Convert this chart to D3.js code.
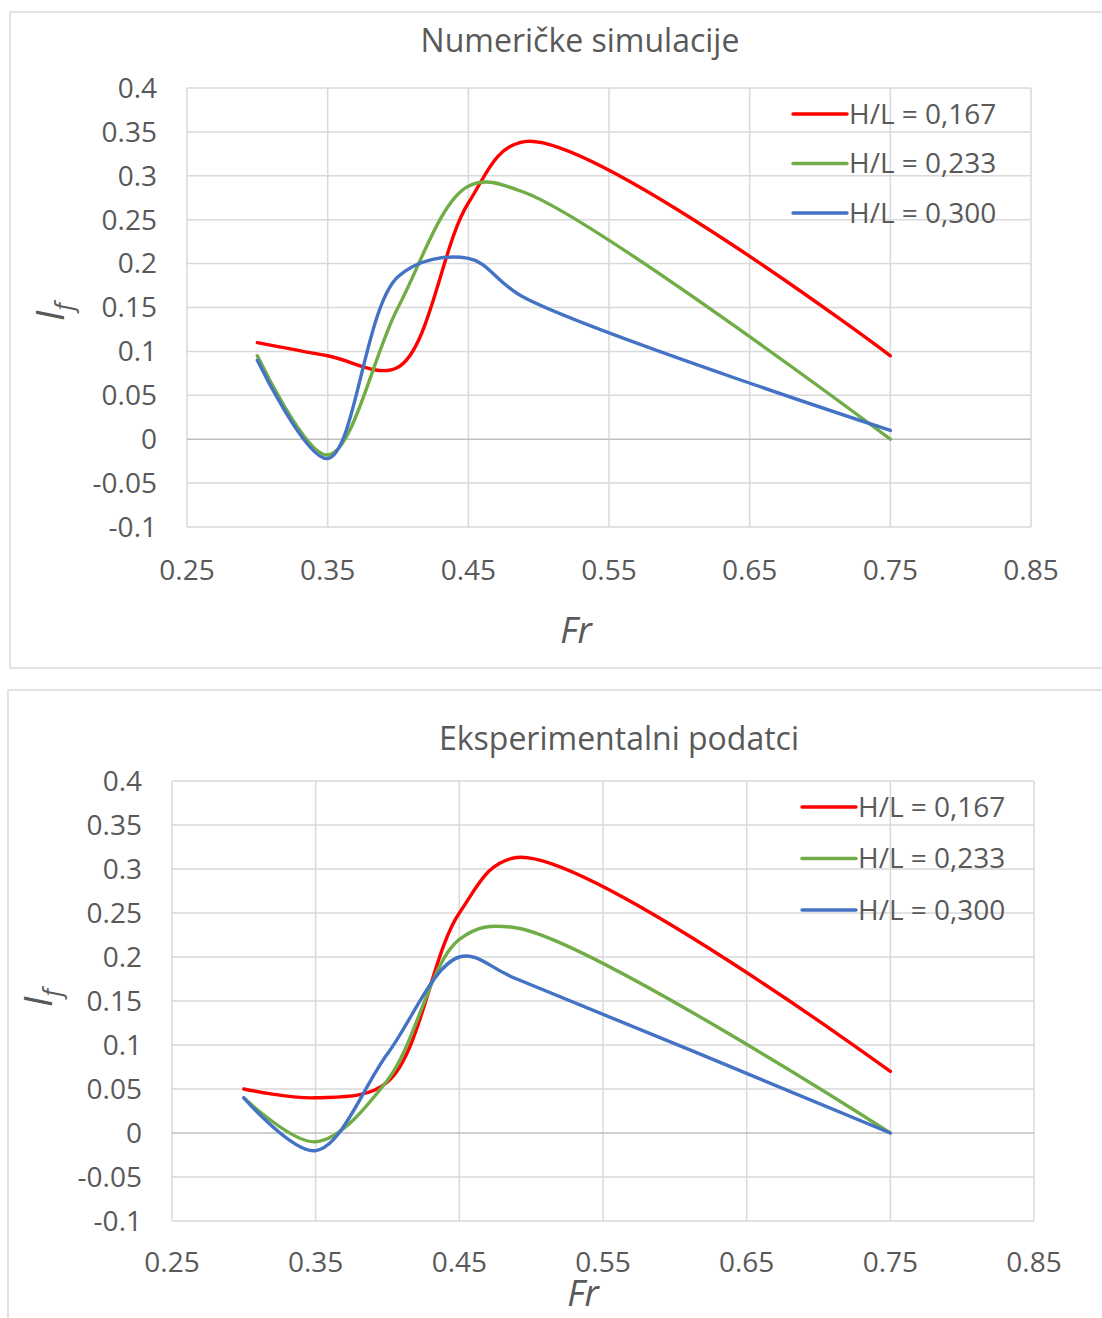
<!DOCTYPE html>
<html>
<head>
<meta charset="utf-8">
<script src="https://d3js.org/d3.v7.min.js"></script>
<style>
  body { margin: 0; background: #fff; }
  text { font-family: "Open Sans", "Noto Sans", sans-serif; fill: #595959; }
</style>
</head>
<body>
<svg width="1102" height="1318"></svg>
<script>
// Fr values shared by every series
var fr = [0.30, 0.35, 0.40, 0.45, 0.49, 0.75];

var seriesNames = ["H/L = 0,167", "H/L = 0,233", "H/L = 0,300"];
var seriesColors = ["#ff0000", "#70ad47", "#4472c4"];

// Numeričke simulacije
var numH167 = [0.110, 0.095, 0.082, 0.269, 0.339, 0.095];
var numH233 = [0.095, -0.018, 0.150, 0.288, 0.281, 0.000];
var numH300 = [0.090, -0.022, 0.185, 0.206, 0.161, 0.010];

// Eksperimentalni podatci
var expH167 = [0.050, 0.040, 0.058, 0.250, 0.313, 0.070];
var expH233 = [0.040, -0.010, 0.060, 0.220, 0.233, 0.000];
var expH300 = [0.040, -0.020, 0.090, 0.200, 0.175, 0.000];

var xTicks = [0.25, 0.35, 0.45, 0.55, 0.65, 0.75, 0.85];
var yTicks = [-0.1, -0.05, 0, 0.05, 0.1, 0.15, 0.2, 0.25, 0.3, 0.35, 0.4];

var svg = d3.select("svg");

function drawChart(cfg) {
  var g = svg.append("g");

  g.append("rect")
      .attr("x", cfg.box[0]).attr("y", cfg.box[1])
      .attr("width", cfg.box[2]).attr("height", cfg.box[3])
      .attr("fill", "#fff")
      .attr("stroke", "#d9d9d9")
      .attr("stroke-width", 1.5);

  var x = d3.scaleLinear().domain([0.25, 0.85]).range([cfg.left, cfg.right]);
  var y = d3.scaleLinear().domain([-0.1, 0.4]).range([cfg.bottom, cfg.top]);

  // grid
  g.selectAll(".vg").data(xTicks).enter().append("line")
      .attr("x1", function(d) { return x(d); }).attr("x2", function(d) { return x(d); })
      .attr("y1", y(-0.1)).attr("y2", y(0.4))
      .attr("stroke", "#d9d9d9").attr("stroke-width", 1.5);

  g.selectAll(".hg").data(yTicks).enter().append("line")
      .attr("x1", x(0.25)).attr("x2", x(0.85))
      .attr("y1", function(d) { return y(d); }).attr("y2", function(d) { return y(d); })
      .attr("stroke", function(d) { return d === 0 ? "#bfbfbf" : "#d9d9d9"; })
      .attr("stroke-width", 1.5);

  // tick labels
  g.selectAll(".xt").data(xTicks).enter().append("text")
      .attr("x", function(d) { return x(d); })
      .attr("y", cfg.xLabelY)
      .attr("text-anchor", "middle")
      .style("font-size", "28px")
      .text(function(d) { return d.toFixed(2); });

  g.selectAll(".yt").data(yTicks).enter().append("text")
      .attr("x", cfg.left - 30)
      .attr("y", function(d) { return y(d); })
      .attr("dy", "0.35em")
      .attr("text-anchor", "end")
      .style("font-size", "28px")
      .text(function(d) { return String(d); });

  // title + axis titles
  g.append("text")
      .attr("x", cfg.titleX).attr("y", cfg.titleY)
      .attr("text-anchor", "middle")
      .style("font-size", "32px")
      .text(cfg.title);

  g.append("text")
      .attr("x", cfg.frX).attr("y", cfg.frY)
      .attr("text-anchor", "middle")
      .style("font-size", "36px")
      .style("font-style", "italic")
      .text("Fr");

  var yt = g.append("text")
      .attr("transform", "translate(" + cfg.ifX + "," + cfg.ifY + ") rotate(-90)")
      .attr("text-anchor", "middle")
      .style("font-size", "38px")
      .style("font-style", "italic");
  yt.append("tspan").text("I");
  yt.append("tspan").attr("dy", 9).style("font-size", "25px").text("f");

  // series
  var line = d3.line()
      .x(function(d) { return x(d[0]); })
      .y(function(d) { return y(d[1]); })
      .curve(d3.curveCatmullRom.alpha(0.5));

  cfg.series.forEach(function(vals, i) {
    g.append("path")
        .datum(fr.map(function(f, j) { return [f, vals[j]]; }))
        .attr("fill", "none")
        .attr("stroke", seriesColors[i])
        .attr("stroke-width", 3.4)
        .attr("stroke-linejoin", "round")
        .attr("stroke-linecap", "round")
        .attr("d", line);
  });

  // legend
  seriesNames.forEach(function(name, i) {
    var ly = cfg.legY + i * cfg.legStep;
    g.append("line")
        .attr("x1", cfg.legX).attr("x2", cfg.legX + 54)
        .attr("y1", ly).attr("y2", ly)
        .attr("stroke", seriesColors[i])
        .attr("stroke-width", 3.4)
        .attr("stroke-linecap", "round");
    g.append("text")
        .attr("x", cfg.legX + 56).attr("y", ly)
        .attr("dy", "0.35em")
        .style("font-size", "28px")
        .text(name);
  });
}

drawChart({
  box: [10, 12, 1100, 656],
  left: 187, right: 1031, top: 88, bottom: 527,
  xLabelY: 580, title: "Numeričke simulacije", titleX: 580, titleY: 52,
  frX: 576, frY: 643, ifX: 64, ifY: 312,
  legX: 793, legY: 114, legStep: 49.5,
  series: [numH167, numH233, numH300]
});

drawChart({
  box: [8, 690, 1102, 640],
  left: 172, right: 1034, top: 781, bottom: 1221,
  xLabelY: 1272, title: "Eksperimentalni podatci", titleX: 619, titleY: 750,
  frX: 583, frY: 1306, ifX: 52, ifY: 998,
  legX: 802, legY: 807, legStep: 51.5,
  series: [expH167, expH233, expH300]
});
</script>
</body>
</html>
